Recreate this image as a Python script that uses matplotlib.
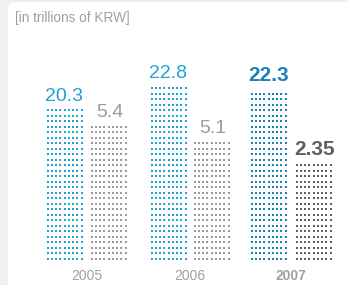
import numpy as np
import matplotlib
matplotlib.use("Agg")
from matplotlib import pyplot as plt
from matplotlib.patches import FancyBboxPatch

# dados
anos = ["2005", "2006", "2007"]
rotulos_azul = ["20.3", "22.8", "22.3"]
rotulos_cinza = ["5.4", "5.1", "2.35"]
# altura visível de cada coluna (escala do desenho, não proporcional ao valor)
altura_azul = [152, 175, 172]
altura_cinza = [136, 120, 98]

cor_azul = "#1ea3d6"
cor_azul_destaque = "#1a82b5"
cor_cinza = "#9b9b9b"
cor_cinza_destaque = "#5f5f5f"

plt.rcParams["font.family"] = ["Liberation Sans", "DejaVu Sans"]

fig = plt.figure(figsize=(3.48, 2.85), dpi=100)
fig.patch.set_facecolor("#f1f0ee")
ax = fig.add_axes([0, 0, 1, 1])
ax.set_xlim(0, 348)
ax.set_ylim(-25, 260)
ax.axis("off")

# painel branco arredondado
painel = FancyBboxPatch((8, -60), 400, 318, boxstyle="round,pad=0,rounding_size=7",
                        facecolor="white", edgecolor="none")
ax.add_patch(painel)

ax.text(15, 242, "[in trillions of KRW]", color="#a0a0a0", fontsize=9.8,
        ha="left", va="center")

x_azul = [46, 150, 250]
x_cinza = [90, 193, 295]
largura = 37
n_col = 9
passo_y = 5.5


def coluna_pontos(x0, altura, cor):
    xs = np.linspace(x0 + 1.5, x0 + largura - 1.5, n_col)
    ys = np.arange(1.5, altura, passo_y)
    gx, gy = np.meshgrid(xs, ys)
    ax.scatter(gx.ravel(), gy.ravel(), s=3.4, marker="s", color=cor, linewidths=0)


for i in range(len(anos)):
    destaque = i == len(anos) - 1
    ca = cor_azul_destaque if destaque else cor_azul
    cc = cor_cinza_destaque if destaque else cor_cinza
    peso = "bold" if destaque else "normal"
    tam = 15 if destaque else 14
    coluna_pontos(x_azul[i], altura_azul[i], ca)
    coluna_pontos(x_cinza[i], altura_cinza[i], cc)
    ax.text(x_azul[i] + largura / 2, altura_azul[i] + 3, rotulos_azul[i], color=ca,
            fontsize=tam, fontweight=peso, ha="center", va="bottom")
    ax.text(x_cinza[i] + largura / 2 + 1, altura_cinza[i] + 3, rotulos_cinza[i], color=cc,
            fontsize=tam, fontweight=peso, ha="center", va="bottom")
    ax.text((x_azul[i] + x_cinza[i] + largura) / 2, -16, anos[i],
            color="#a0a0a0", fontsize=10, fontweight=peso, ha="center", va="center")

plt.savefig("out.png", dpi=100, facecolor=fig.get_facecolor())
